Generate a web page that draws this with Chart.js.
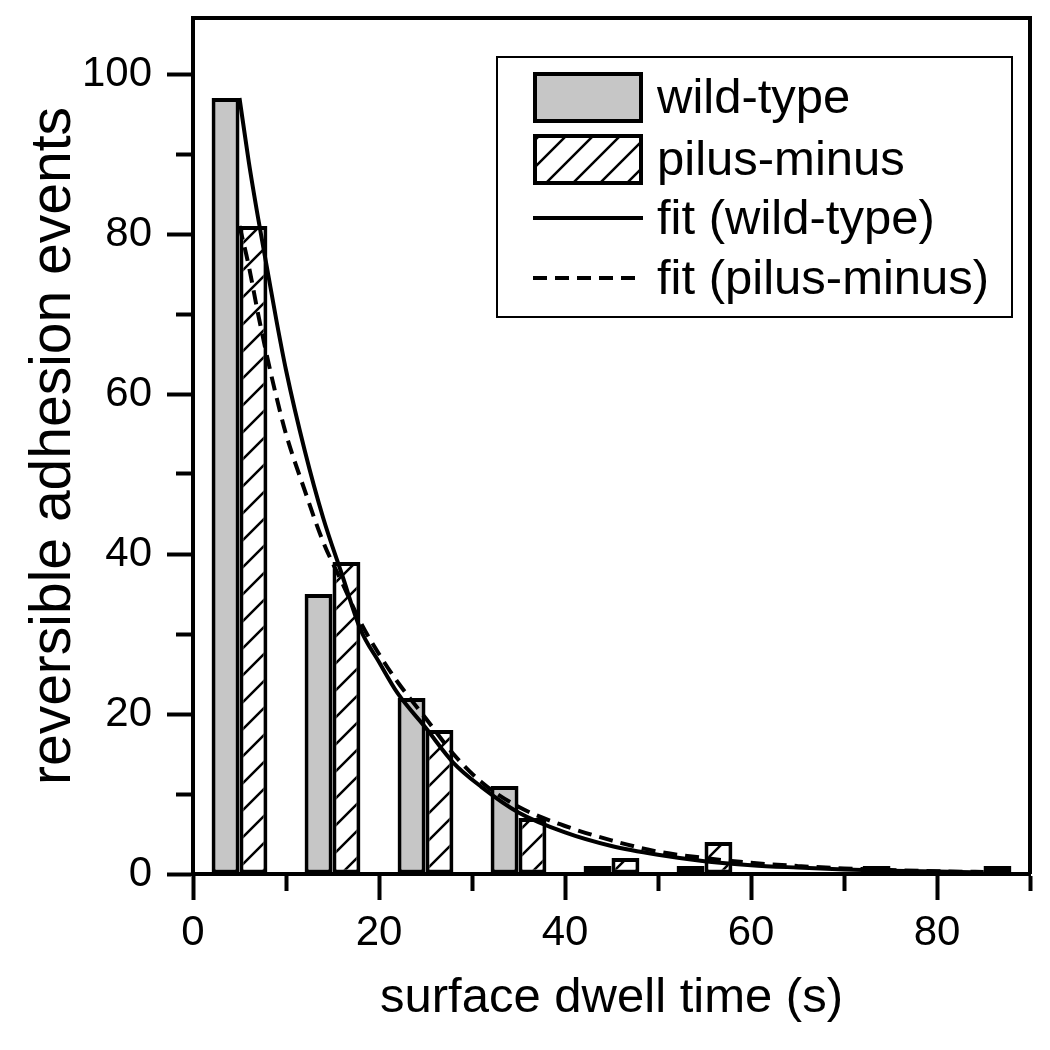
<!DOCTYPE html>
<html>
<head>
<meta charset="utf-8">
<script src="https://cdn.jsdelivr.net/npm/chart.js@4.4.0/dist/chart.umd.min.js"></script>
<style>
  body { margin: 0; background: #fff; }
</style>
</head>
<body>
<canvas id="dwell" width="1050" height="1050"></canvas>
<script>
// histogram bins (s) and counts
var binCenters = [5, 15, 25, 35, 45, 55, 65, 75, 85];
var wildType = [97, 35, 22, 11, 1, 1, 0, 1, 0];
var pilusMinus = [81, 39, 18, 7, 2, 4, 0, 0, 1];

// fit curves
var fitTimes = [5, 6, 7, 8, 9, 10, 12, 14, 16, 18, 20, 22, 25, 28, 31, 35, 40, 45, 50, 55, 60, 65, 70, 75, 80, 85];
var fitWildType = [97, 89, 82, 75.5, 69, 63, 53, 44.5, 37.5, 30.6, 26.5, 22.6, 18.3, 13.9, 10.9, 7.7, 5.2, 3.5, 2.4, 1.6, 1.1, 0.8, 0.55, 0.4, 0.3, 0.2];
var fitPilusMinus = [81, 76, 70, 64.5, 59.5, 55, 48, 41.5, 36.5, 31.5, 27.5, 24, 19.5, 15, 11.5, 8.4, 6, 4.2, 2.8, 2, 1.4, 1, 0.7, 0.5, 0.35, 0.25];

var xTickLabels = [0, 20, 40, 60, 80];
var yTickLabels = [0, 20, 40, 60, 80, 100];

var FONT = "'Liberation Sans', Arial, sans-serif";

function toPoints(xs, ys) {
    return xs.map(function(x, i) { return { x: x, y: ys[i] }; });
}

function makeHatch() {
    var s = 27;
    var c = document.createElement('canvas');
    c.width = s; c.height = s;
    var g = c.getContext('2d');
    g.fillStyle = '#fff';
    g.fillRect(0, 0, s, s);
    g.strokeStyle = '#000';
    g.lineWidth = 2.5;
    g.beginPath();
    g.moveTo(0, s); g.lineTo(s, 0);
    g.moveTo(-s / 2, s / 2); g.lineTo(s / 2, -s / 2);
    g.moveTo(s / 2, 1.5 * s); g.lineTo(1.5 * s, s / 2);
    g.stroke();
    return g.createPattern(c, 'repeat');
}

// minor ticks get a short dash, labelled ones the full length
function tickDash(labels, minorDash) {
    return function(c) {
        if (!c.tick) return [];
        return labels.indexOf(c.tick.value) >= 0 ? [] : minorDash;
    };
}

function fixAxis(size, key) {
    return function(scale) {
        scale[key] = size;
        scale.paddingTop = 0;
        scale.paddingBottom = 0;
        scale.paddingLeft = 0;
        scale.paddingRight = 0;
    };
}

var ctx = document.getElementById('dwell').getContext('2d');
var hatch = makeHatch();

// top and right edges of the frame
var framePlugin = {
    id: 'frame',
    afterDraw: function(chart) {
        var a = chart.chartArea, c = chart.ctx;
        c.save();
        c.strokeStyle = '#000';
        c.lineWidth = 4;
        c.beginPath();
        c.moveTo(a.left, a.top);
        c.lineTo(a.right, a.top);
        c.lineTo(a.right, a.bottom);
        c.stroke();
        c.restore();
    }
};

// legend box inside the plot
var legendPlugin = {
    id: 'insetLegend',
    afterDraw: function(chart) {
        var a = chart.chartArea, c = chart.ctx;
        var x0 = a.right - 533, y0 = a.top + 39;
        var rows = [40, 102, 161, 221];
        c.save();
        c.fillStyle = '#fff';
        c.fillRect(x0, y0, 515, 260);
        c.strokeStyle = '#000';
        c.lineWidth = 2;
        c.strokeRect(x0, y0, 515, 260);
        c.font = '49px ' + FONT;
        c.textBaseline = 'middle';
        chart.data.datasets.forEach(function(ds, i) {
            var cy = y0 + rows[i];
            var sx = x0 + 36;
            if (ds.type === 'bar') {
                c.fillStyle = ds.backgroundColor;
                c.fillRect(sx, cy - 25, 110, 51);
                c.lineWidth = 4;
                c.strokeStyle = '#000';
                c.strokeRect(sx + 2, cy - 23, 106, 47);
            } else {
                c.lineWidth = 4;
                c.strokeStyle = ds.borderColor;
                c.setLineDash(ds.borderDash || []);
                c.beginPath();
                c.moveTo(sx, cy);
                c.lineTo(sx + 110, cy);
                c.stroke();
                c.setLineDash([]);
            }
            c.fillStyle = '#000';
            c.fillText(ds.label, x0 + 160, cy + 2);
        });
        c.restore();
    }
};

new Chart(ctx, {
    data: {
        datasets: [
            {
                type: 'bar',
                label: 'wild-type',
                data: toPoints(binCenters, wildType),
                backgroundColor: '#c6c6c6',
                borderColor: '#000',
                borderWidth: 4,
                borderSkipped: false,
                categoryPercentage: 0.6,
                barPercentage: 1.0,
                order: 2
            },
            {
                type: 'bar',
                label: 'pilus-minus',
                data: toPoints(binCenters, pilusMinus),
                backgroundColor: hatch,
                borderColor: '#000',
                borderWidth: 4,
                borderSkipped: false,
                categoryPercentage: 0.6,
                barPercentage: 1.0,
                order: 2
            },
            {
                type: 'line',
                label: 'fit (wild-type)',
                data: toPoints(fitTimes, fitWildType),
                borderColor: '#000',
                borderWidth: 4,
                pointRadius: 0,
                fill: false,
                cubicInterpolationMode: 'monotone',
                order: 0
            },
            {
                type: 'line',
                label: 'fit (pilus-minus)',
                data: toPoints(fitTimes, fitPilusMinus),
                borderColor: '#000',
                borderWidth: 4,
                borderDash: [14, 8],
                pointRadius: 0,
                fill: false,
                cubicInterpolationMode: 'monotone',
                order: 1
            }
        ]
    },
    options: {
        responsive: false,
        devicePixelRatio: 1,
        animation: false,
        layout: { padding: { top: 18, right: 20, left: 0, bottom: 0 } },
        plugins: {
            legend: { display: false },
            tooltip: { enabled: false }
        },
        scales: {
            x: {
                type: 'linear',
                min: 0,
                max: 90,
                offset: false,
                afterFit: fixAxis(176, 'height'),
                border: { display: true, width: 4, color: '#000' },
                grid: {
                    offset: false,
                    drawOnChartArea: false,
                    drawTicks: true,
                    tickLength: 26,
                    tickWidth: 4,
                    tickColor: '#000',
                    tickBorderDash: tickDash(xTickLabels, [15, 100])
                },
                ticks: {
                    stepSize: 10,
                    padding: 8,
                    color: '#000',
                    maxRotation: 0,
                    autoSkip: false,
                    font: { family: FONT, size: 42 },
                    callback: function(v) { return xTickLabels.indexOf(v) >= 0 ? String(v) : ''; }
                },
                title: {
                    display: true,
                    text: 'surface dwell time (s)',
                    color: '#000',
                    font: { family: FONT, size: 49 },
                    padding: { top: 0, bottom: 22 }
                }
            },
            y: {
                type: 'linear',
                min: 0,
                max: 107,
                afterFit: fixAxis(193, 'width'),
                border: { display: true, width: 4, color: '#000' },
                grid: {
                    offset: false,
                    drawOnChartArea: false,
                    drawTicks: true,
                    tickLength: 26,
                    tickWidth: 4,
                    tickColor: '#000',
                    tickBorderDash: tickDash(yTickLabels, [0, 9, 15, 100])
                },
                ticks: {
                    stepSize: 10,
                    includeBounds: false,
                    padding: 15,
                    color: '#000',
                    autoSkip: false,
                    font: { family: FONT, size: 42 },
                    callback: function(v) { return yTickLabels.indexOf(v) >= 0 ? String(v) : ''; }
                },
                title: {
                    display: true,
                    text: 'reversible adhesion events',
                    color: '#000',
                    font: { family: FONT, size: 57 },
                    padding: { top: 20, bottom: 0 }
                }
            }
        }
    },
    plugins: [framePlugin, legendPlugin]
});
</script>
</body>
</html>
